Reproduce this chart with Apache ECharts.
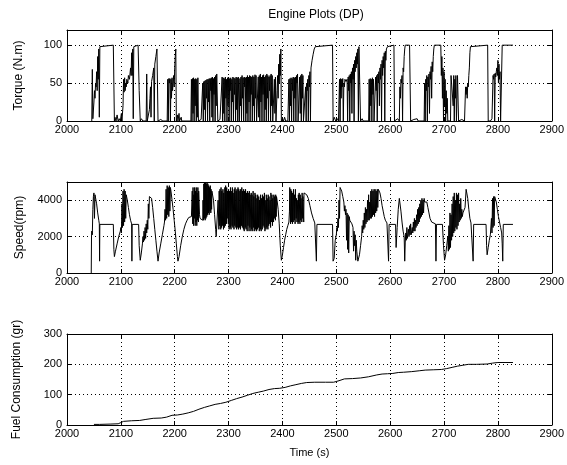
<!DOCTYPE html>
<html>
<head>
<meta charset="utf-8">
<script src="https://cdn.jsdelivr.net/npm/echarts@6/dist/echarts.min.js"></script>
<style>html,body{margin:0;padding:0;background:#fff}#c{width:567px;height:465px}</style>
</head>
<body>
<div id="c"></div>
<script>
// ---- data ----
const chartTitle = 'Engine Plots (DP)';
const xLabel = 'Time (s)';
const yLabels = ['Torque (N.m)', 'Speed(rpm)', 'Fuel Consumption (gr)'];
const xRange = [2000, 2900, 100];
const torqueRange = [0, 120, 50];
const speedRange = [0, 5000, 2000];
const fuelRange = [0, 300, 100];

const torqueData = [
[2046,0],[2047,68],[2048,3],[2050,25],[2051,40],[2052,30],[2053,50],[2054,45],[2055,65],[2056,40],[2057,85],[2058,55],[2059,95],[2060,5],[2061,98],[2062,100],[2086,100],[2088,0],[2089,5],[2091,0],[2093,8],[2095,0],[2097,3],[2099,0],[2101,10],[2102,0],
[2104,20],[2105,55],[2106,38],[2107,57],[2108,40],[2109,50],[2110,45],[2111,55],[2113,50],[2114,60],[2116,55],[2118,70],[2119,60],[2120,90],[2121,60],[2122,95],[2123,3],[2124,98],[2125,100],[2132,100],[2134,40],[2136,0],[2138,3],[2141,0],[2144,2],[2147,0],[2148,62],[2149,0],[2151,0],
[2153,15],[2154,30],[2155,45],[2156,5],[2157,52],[2159,60],[2161,70],[2162,0],[2163,75],[2165,85],[2167,95],[2169,0],[2171,0],[2174,2],[2178,0],[2186,0],
[2187,55],[2188,0],[2189,56],[2190,50],[2191,56],[2192,0],[2193,55],[2194,30],[2195,57],[2196,40],[2197,50],[2198,60],[2199,45],[2200,70],[2201,85],[2202,95],[2203,0],[2205,8],[2206,0],[2208,10],[2209,0],[2212,5],[2213,0],[2230,0],
[2231,55],[2232,0],[2233,56],[2234,10],[2235,57],[2236,0],[2237,55],[2238,20],[2239,56],[2240,0],[2241,55],[2242,5],[2243,57],[2244,0],[2247,0],[2249,2],[2251,0],
[2252,50],[2253,0],[2254,52],[2255,15],[2256,53],[2257,0],[2258,54],[2259,30],[2260,55],[2261,0],[2262,55],[2263,25],[2264,56],[2265,0],[2266,56],[2267,40],[2268,57],[2269,5],[2270,58],[2271,0],[2272,56],[2273,35],[2274,58],[2275,0],[2276,60],[2277,20],[2278,62],[2279,64],[2280,0],[2282,0],[2284,2],[2286,0],
[2288,58],[2289,0],[2290,57],[2291,10],[2292,56],[2293,0],[2294,58],[2295,30],[2296,55],[2297,0],[2298,57],[2299,20],[2300,58],[2301,0],[2302,56],[2303,40],[2304,57],[2305,0],[2306,55],[2307,25],[2308,58],[2309,0],[2310,57],[2311,35],[2312,56],[2313,0],[2314,58],[2315,15],[2316,57],[2317,0],[2318,58],[2320,0],
[2321,56],[2322,20],[2323,58],[2324,0],[2325,60],[2326,30],[2327,57],[2328,0],[2329,58],[2330,45],[2331,57],[2332,0],[2333,58],[2334,10],[2335,60],[2336,0],[2337,58],[2338,25],[2339,60],[2340,0],[2341,59],[2342,35],[2343,58],[2344,0],[2345,60],[2346,20],[2347,58],[2348,0],[2349,61],[2350,30],[2351,60],[2352,0],[2354,0],
[2355,58],[2356,5],[2357,60],[2358,0],[2359,62],[2360,25],[2361,58],[2362,0],[2363,60],[2364,35],[2365,61],[2366,0],[2367,58],[2368,15],[2369,60],[2370,0],[2371,62],[2372,30],[2373,60],[2374,0],[2375,58],[2376,40],[2377,60],[2378,0],[2379,62],[2380,20],[2381,60],[2382,0],[2384,0],
[2385,55],[2386,10],[2387,58],[2388,0],[2390,40],[2391,60],[2392,30],[2393,75],[2394,50],[2395,88],[2396,60],[2397,95],[2398,0],[2400,3],[2402,0],[2404,5],[2406,0],[2410,0],
[2412,55],[2413,0],[2414,56],[2415,20],[2416,57],[2417,0],[2418,56],[2419,40],[2420,58],[2421,0],[2422,57],[2423,30],[2424,58],[2425,0],[2426,60],[2427,50],[2428,62],[2429,0],[2431,0],[2432,58],[2433,10],[2434,60],[2435,0],[2436,62],[2437,30],[2438,60],[2439,0],[2441,0],
[2443,45],[2444,0],[2445,50],[2446,40],[2447,55],[2448,0],[2449,60],[2450,45],[2451,65],[2452,0],[2453,70],[2455,80],[2457,88],[2459,95],[2461,98],[2462,100],[2493,100],[2494,0],[2496,5],[2499,0],[2502,3],[2504,0],
[2506,55],[2507,0],[2508,56],[2509,30],[2510,55],[2511,45],[2512,56],[2513,0],[2514,50],[2515,45],[2516,55],[2518,52],[2520,55],[2521,0],[2522,58],[2523,40],[2524,60],[2525,0],[2526,62],[2527,50],[2528,65],[2529,10],[2530,70],[2531,55],[2532,75],[2533,0],[2534,80],[2535,65],[2536,85],[2537,70],[2538,90],[2539,75],[2540,95],[2541,0],[2542,98],[2543,100],[2545,0],[2548,3],[2550,0],[2552,2],[2560,0],
[2561,55],[2562,0],[2563,56],[2564,20],[2565,55],[2566,0],[2567,57],[2568,35],[2569,55],[2570,0],[2572,0],[2573,58],[2574,40],[2575,60],[2576,0],[2577,62],[2578,50],[2579,65],[2580,20],[2581,70],[2582,55],[2583,75],[2584,0],[2585,80],[2586,60],[2587,85],[2588,70],[2589,90],[2590,0],[2591,92],[2592,80],[2593,95],[2595,98],[2597,100],[2607,100],[2608,0],[2611,0],[2614,3],[2617,0],
[2618,45],[2619,30],[2620,55],[2621,50],[2622,60],[2623,0],[2624,70],[2625,65],[2626,85],[2627,95],[2628,100],[2636,100],[2638,0],[2641,0],[2644,2],[2647,0],[2650,3],[2652,0],[2663,0],
[2664,50],[2665,0],[2666,55],[2667,40],[2668,60],[2669,0],[2670,58],[2671,45],[2672,62],[2673,10],[2674,65],[2675,55],[2676,72],[2677,30],[2678,78],[2679,65],[2680,85],[2681,95],[2682,100],[2694,100],[2695,60],[2696,85],[2697,30],[2698,70],[2699,0],[2700,65],[2701,20],[2702,55],[2703,0],[2704,40],[2705,10],[2706,30],[2707,0],[2712,0],
[2713,60],[2716,60],[2717,20],[2718,60],[2719,0],[2720,55],[2721,30],[2722,60],[2723,0],[2725,60],[2726,60],[2727,0],[2730,0],[2733,2],[2738,0],
[2740,45],[2741,35],[2742,45],[2743,30],[2744,50],[2745,45],[2746,60],[2747,70],[2748,90],[2749,98],[2750,100],[2781,100],[2782,0],[2786,0],[2789,3],
[2791,60],[2792,55],[2793,62],[2794,0],[2795,63],[2796,58],[2797,65],[2798,70],[2799,60],[2800,80],[2801,50],[2802,75],[2803,55],[2804,65],[2805,0],[2807,0],[2808,100],[2828,100]
];

const speedData = [
[2045,0],[2045.5,2000],[2046,2300],[2047,2100],[2048,3500],[2049,4200],[2050,4400],[2051,3000],[2052,4300],[2053,4200],[2055,3800],[2057,3300],[2059,2900],[2060,2700],[2060.5,650],[2061,2670],[2086,2670],[2087,1300],[2088,900],[2090,1200],[2093,1600],[2096,2000],[2099,2300],
[2100,2500],[2101,2200],[2102,3800],[2103,2500],[2104,4500],[2105,2600],[2106,4600],[2107,2800],[2108,4500],[2109,3000],[2110,4300],[2112,4000],[2114,3600],[2116,3200],[2118,2900],[2120,2700],[2120.5,650],[2121,2670],[2133,2670],[2134,1500],[2136,700],[2138,1100],[2140,1600],
[2141,2000],[2142,1700],[2143,2300],[2144,1800],[2145,2500],[2146,1900],[2147,2700],[2148,2200],[2149,2900],[2150,2400],[2151,3800],[2152,3000],[2153,4200],[2155,4300],[2157,4100],[2159,3600],[2161,3000],[2163,2400],[2165,1800],[2167,1200],[2169,650],[2171,1100],[2174,1600],[2177,2100],[2180,2600],
[2181,2800],[2182,3500],[2183,2900],[2184,4600],[2185,3000],[2186,4800],[2187,3200],[2188,4700],[2189,3100],[2190,4800],[2191,3400],[2192,4700],[2193,4500],[2195,4000],[2197,3500],[2199,2900],[2201,2300],[2203,1600],[2205,900],[2206,650],[2208,900],[2211,1500],[2214,2000],[2217,2400],[2220,2700],[2223,2900],[2226,3050],[2229,3150],[2231,3100],
[2232,3000],[2232.5,4500],[2233.5,2700],[2234,4700],[2235,2600],[2235.5,4300],[2236.5,3000],[2237,4700],[2238,2600],[2238.5,4500],[2239.5,2800],[2240,4700],[2241,2600],[2241.5,4400],[2242.5,2900],[2243,4700],[2244,2800],[2244.5,4500],[2246,3200],[2247,3000],[2250,2950],[2252,2900],[2252.5,4000],[2253.5,2900],[2254,4900],[2255,3000],[2255.5,5000],[2256.5,2900],[2257,5000],[2258,3000],[2258.5,4900],[2259.5,3100],[2260,5000],[2261,3200],[2261.5,4900],[2262.5,3300],[2263,4800],[2264,3200],[2264.5,4700],[2265.5,3400],[2266,4800],[2267,3300],[2267.5,4600],[2268.5,3500],[2269,4500],[2272,4000],[2274,3200],[2276,2400],[2277,2000],[2278,2100],
[2280,2100],[2280.5,4000],[2282,2400],[2282.5,4500],[2283.5,2600],[2284,4600],[2285.5,2400],[2286,4700],[2287,2500],[2287.5,4500],[2289,2600],[2289.5,4600],[2290.5,2400],[2291,4400],[2292.5,2500],[2293,4700],[2294,2600],[2294.5,4800],[2296,2700],[2296.5,4700],[2297.5,3000],[2298,4500],[2299.5,2700],[2300,4600],
[2301,2400],[2301.5,4500],[2303,2500],[2303.5,4700],[2304.5,2400],[2305,4500],[2306.5,2600],[2307,4700],[2308,2500],[2308.5,4400],[2310,2400],[2310.5,4600],[2311.5,2600],[2312,4700],[2313.5,2500],[2314,4500],[2315,2400],[2315.5,4600],[2317,2500],[2317.5,4700],[2318.5,2400],[2319,4600],[2320.5,2500],[2321,4500],
[2322,2400],[2322.5,4600],[2324,2600],[2324.5,4700],[2325.5,2500],[2326,4500],[2327.5,2400],[2328,4600],[2329,2300],[2329.5,4500],[2331,2500],[2331.5,4600],[2332.5,2400],[2333,4400],[2334.5,2300],[2335,4500],[2336,2600],[2336.5,4400],[2338,2300],[2338.5,4500],[2339.5,2500],[2340,4300],
[2341.5,2300],[2342,4400],[2343,2400],[2343.5,4300],[2345,2300],[2345.5,4500],[2346.5,2500],[2347,4200],[2348.5,2300],[2349,4400],[2350,2400],[2350.5,4300],[2352,2300],[2352.5,4100],[2353.5,2400],[2354,4300],[2355.5,2500],[2356,4200],[2357,2300],[2357.5,4000],[2359,2400],[2359.5,4300],
[2360.5,2300],[2361,4100],[2362.5,2400],[2363,4300],[2364,2600],[2364.5,4200],[2366,2500],[2366.5,4400],[2367.5,2300],[2368,4000],[2369.5,2400],[2370,4300],[2371,2500],[2371.5,4100],[2373,2400],[2373.5,4300],[2374.5,2600],[2375,4200],[2376.5,2700],[2377,4000],[2378,2500],[2378.5,4400],
[2380,2800],[2380.5,4300],[2381.5,2600],[2382,4100],[2383.5,2800],[2384,4300],[2385,3000],[2385.5,4200],[2387,2900],[2387.5,4300],[2388.5,3100],[2389,4200],[2390,4000],[2392,3500],[2394,2700],[2396,1500],[2398,700],[2399,650],
[2400,1000],[2402,1400],[2404,1800],[2406,2100],[2408,2400],[2410,2600],[2412,2800],[2413,3400],[2413.5,4700],[2415,2700],[2415.5,4600],[2416.5,2800],[2417,4500],[2418.5,2700],[2419,4400],[2420,2800],[2420.5,4600],[2422,2900],[2422.5,4300],[2423.5,2700],[2424,4600],[2425.5,3000],[2426,4100],[2427,2800],[2427.5,4000],[2429,2700],[2429.5,4300],[2430.5,2800],[2431,4400],[2432.5,2700],[2433,4300],[2434,2900],[2434.5,4100],[2436,2800],[2436.5,4400],[2437.5,3000],[2438,4200],[2439.5,2800],[2440,4400],[2443,4350],[2445,4300],[2448,4100],[2451,3700],[2454,3300],[2457,3000],[2460,2750],[2462,2700],[2463,650],[2464,2670],[2493,2670],[2494,650],[2496,800],[2498,1800],
[2500,2100],[2501,2500],[2502,2300],[2503,3000],[2504,2500],[2505,4000],[2506,3000],[2507,4700],[2508,4650],[2510,4500],[2512,4200],[2514,3900],[2515,3400],[2516,3700],[2517,3200],[2518,3500],[2519,1800],[2520,3300],[2521,1300],[2522,3200],[2523,1100],[2524,3100],[2525,2900],[2527,2800],[2529,2700],[2531,2500],[2532,1200],[2533,2300],[2534,1500],[2535,2100],[2536,700],[2537,1800],[2538,1200],[2540,650],
[2541,650],[2543,1000],[2545,1500],[2547,2000],[2548,2600],[2549,2200],[2550,2900],[2551,2400],[2552,3300],[2553,2500],[2554,3600],[2555,2700],[2556,3500],[2557,2800],[2558,4000],[2559,2900],[2560,4300],[2561,2900],[2562,3900],[2563,3000],[2564,4500],[2565,3000],[2566,4600],[2567,3100],[2568,4500],[2569,3200],[2570,4600],[2571,3100],[2572,4600],[2573,3300],[2574,4500],[2575,3400],[2576,4600],[2577,3600],[2578,4600],[2579,4500],[2581,4400],[2583,4100],[2585,3700],[2587,3400],[2589,3100],[2591,2900],[2594,2750],[2596,2700],[2597,650],[2598,2670],
[2610,2670],[2611,1400],[2613,2500],[2615,3500],[2617,4100],[2618,4000],[2620,3400],[2622,2800],[2624,2300],[2626,2000],[2627,650],[2628,1700],[2629,2200],[2630,1800],[2631,2500],[2632,1900],[2634,2400],[2635,2000],[2636,2600],[2637,2100],[2638,2700],[2639,2100],[2641,2500],[2642,2200],[2643,2800],[2644,2300],[2645,3000],[2646,2300],[2647,2900],[2648,2500],[2649,3200],[2650,2600],[2651,3500],[2652,2700],[2653,3600],[2654,2800],[2655,3800],[2656,3000],[2657,4000],[2658,3100],[2659,4100],[2660,3200],[2661,4000],[2662,3300],[2663,4100],[2664,3900],[2666,4000],[2668,3900],[2670,3600],[2672,3300],[2674,3000],[2677,2800],[2680,2700],[2684,2700],[2685,650],[2686,2670],
[2697,2670],[2699,1500],[2701,700],[2703,1000],[2705,1500],[2707,2000],[2708,1200],[2709,2600],[2710,1300],[2711,3300],[2712,1400],[2713,3200],[2714,1800],[2715,3800],[2716,2000],[2717,4200],[2718,2200],[2719,4400],[2720,2300],[2721,4000],[2722,2500],[2723,4400],[2724,2400],[2725,4300],[2726,2600],[2727,4400],[2728,2800],[2729,3800],[2730,2900],[2731,4100],[2732,3000],[2733,3500],[2734,3100],[2735,3300],[2737,3200],[2739,3600],[2741,4600],[2742,4500],[2744,4100],[2746,3500],[2748,3000],[2750,2750],[2753,2700],[2754,650],[2755,2670],
[2778,2670],[2779,1500],[2780,1000],[2782,1400],[2784,1800],[2786,2100],[2787,2000],[2788,3000],[2789,2200],[2790,4100],[2791,2500],[2792,4200],[2793,2600],[2794,4200],[2795,4100],[2797,3900],[2799,3500],[2801,3100],[2803,2800],[2805,2500],[2807,2200],[2808,1600],[2809,650],[2810,2670],[2828,2670]
];

const fuelData = [
[2050,2],[2060,2],[2080,3],[2095,4],[2100,8],[2105,12],[2120,14],[2135,15],[2145,18],[2160,22],[2175,23],[2185,26],[2195,32],[2205,33],[2215,36],[2225,40],[2235,45],[2245,52],[2255,58],[2265,63],[2275,68],[2285,71],[2295,75],[2305,81],[2315,87],[2325,92],[2335,98],[2345,104],[2355,108],[2365,112],[2375,117],[2385,120],[2395,121],[2405,124],[2415,129],[2425,133],[2435,137],[2445,140],[2460,141],[2480,141],[2495,141],[2505,146],[2515,152],[2530,153],[2545,155],[2560,159],[2575,165],[2585,168],[2595,169],[2605,170],[2615,173],[2625,174],[2640,176],[2655,179],[2665,181],[2680,182],[2695,183],[2705,186],[2715,190],[2725,194],[2735,197],[2745,200],[2760,200],[2780,201],[2790,204],[2800,206],[2815,206],[2828,206]
];

// ---- chart ----
const FONT = 'Liberation Sans, Arial, sans-serif';
const plotTops = [30, 182, 334];
const plotH = 91;
const nameGaps = [42, 41, 44];
const yRanges = [torqueRange, speedRange, fuelRange];
const seriesData = [torqueData, speedData, fuelData];

const grids = [], xAxes = [], yAxes = [], series = [];
const lineC = {color: '#000', width: 1};
const plain = v => String(v);
for (let i = 0; i < 3; i++) {
  grids.push({left: 67, right: 12, top: plotTops[i], height: plotH, show: false});
  const base = {
    gridIndex: i, type: 'value', min: xRange[0], max: xRange[1], interval: xRange[2],
    axisLine: {show: true, onZero: false, lineStyle: lineC},
    axisTick: {show: true, inside: true, length: 4, lineStyle: lineC}
  };
  xAxes.push(Object.assign({}, base, {
    position: 'bottom',
    axisLabel: {color: '#000', fontSize: 11, fontFamily: FONT, margin: 3, formatter: plain},
    splitLine: {show: true, lineStyle: {color: '#000', width: 1, type: [1, 3]}},
    name: i === 2 ? xLabel : '', nameLocation: 'middle', nameGap: 22,
    nameTextStyle: {color: '#000', fontSize: 11, fontFamily: FONT}
  }));
  xAxes.push(Object.assign({}, base, {
    position: 'top', axisLabel: {show: false}, splitLine: {show: false}
  }));
  const r = yRanges[i];
  const ybase = {
    gridIndex: i, type: 'value', min: r[0], max: r[1], interval: r[2],
    axisLine: {show: true, onZero: false, lineStyle: lineC},
    axisTick: {show: true, inside: true, length: 4, lineStyle: lineC}
  };
  yAxes.push(Object.assign({}, ybase, {
    position: 'left',
    axisLabel: {color: '#000', fontSize: 11, fontFamily: FONT, margin: 5, formatter: plain, showMaxLabel: (r[1] % r[2] === 0)},
    splitLine: {show: true, lineStyle: {color: '#000', width: 1, type: [1, 3]}},
    name: yLabels[i], nameLocation: 'middle', nameGap: nameGaps[i], nameRotate: 90,
    nameTextStyle: {color: '#000', fontSize: 12, fontFamily: FONT}
  }));
  yAxes.push(Object.assign({}, ybase, {
    position: 'right', axisLabel: {show: false}, splitLine: {show: false}
  }));
  series.push({
    type: 'line', xAxisIndex: i * 2, yAxisIndex: i * 2, data: seriesData[i],
    showSymbol: false, symbol: 'none', lineStyle: {color: '#000', width: 1},
    animation: false, clip: true
  });
}

const chart = echarts.init(document.getElementById('c'), null, {renderer: 'canvas'});
chart.setOption({
  animation: false,
  backgroundColor: '#fff',
  title: {text: chartTitle, left: 311, top: 4, textAlign: 'center',
    textStyle: {color: '#000', fontSize: 12, fontWeight: 'normal', fontFamily: FONT}},
  grid: grids, xAxis: xAxes, yAxis: yAxes, series: series
});
</script>
</body>
</html>
